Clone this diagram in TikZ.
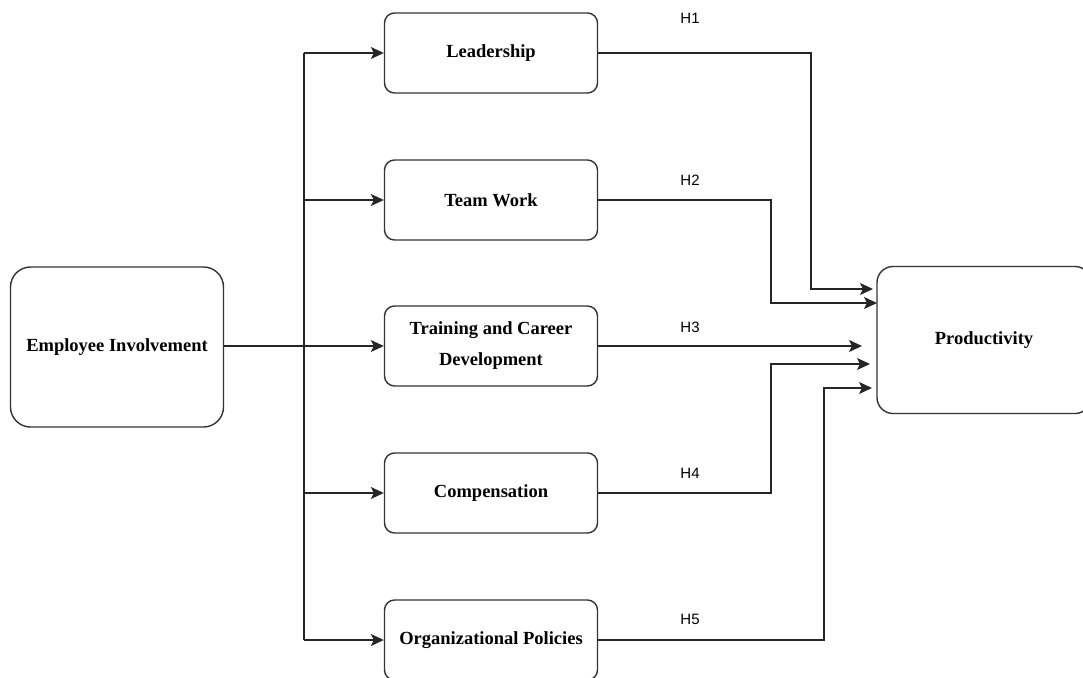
\documentclass[tikz,border=0pt]{standalone}
\usepackage{fontspec}
\setmainfont{Liberation Serif}
\newfontfamily\hfont{Liberation Sans}
\usetikzlibrary{arrows.meta, calc}

\tikzset{
	box/.style = {draw, line width=1.4pt, draw=black!80, rounded corners=10pt, minimum width=213pt, minimum height=80pt, align=center, font=\fontsize{18.5}{31}\selectfont\bfseries},
	bigbox/.style = {box, rounded corners=20pt, minimum height=160pt},
	link/.style = {line width=1.4pt, draw=black!85},
	arr/.style = {link, -{Stealth[length=13pt, width=12pt, inset=3pt]}},
	hyp/.style = {font=\hfont\fontsize{15}{15}\selectfont}
}

\begin{document}
\begin{tikzpicture}[x=1pt, y=-1pt]
			\useasboundingbox (0,0) rectangle (1083,677);

			\node[bigbox] (ei) at (117,347) {Employee Involvement};
			\node[box] (lead) at (491,53) {Leadership};
			\node[box] (team) at (491,200) {Team Work};
			\node[box] (train) at (491,346) {Training and Career\\Development};
			\node[box] (comp) at (491,493) {Compensation};
			\node[box] (pol) at (491,640) {Organizational Policies};
			\node[box, minimum width=214pt, minimum height=147pt, rounded corners=16pt] (prod) at (984,340) {Productivity};

			% trunk on the left
			\coordinate (trunk) at (304,0);
			\draw[link] (trunk |- lead.west) -- (trunk |- pol.west);
			\draw[arr] (ei.east |- train.west) -- (train.west);
			\foreach \n in {lead, team, comp, pol}
			{
				\draw[arr] (trunk |- \n.west) -- (\n.west);
			}

			% paths into productivity
			\coordinate (in1) at (873,289);
			\coordinate (in2) at (877,303);
			\coordinate (in3) at (862,346);
			\coordinate (in4) at (870,364);
			\coordinate (in5) at (872,388);

			\draw[arr] (lead.east) -| (811,289) -- (in1);
			\draw[arr] (team.east) -| (771,303) -- (in2);
			\draw[arr] (train.east) -- (in3);
			\draw[arr] (comp.east) -| (771,364) -- (in4);
			\draw[arr] (pol.east) -| (824,388) -- (in5);

			\node[hyp] (h1) at (690,18) {H1};
			\node[hyp] (h2) at (690,180) {H2};
			\node[hyp] (h3) at (690,327) {H3};
			\node[hyp] (h4) at (690,473) {H4};
			\node[hyp] (h5) at (690,619) {H5};
\end{tikzpicture}
\end{document}
